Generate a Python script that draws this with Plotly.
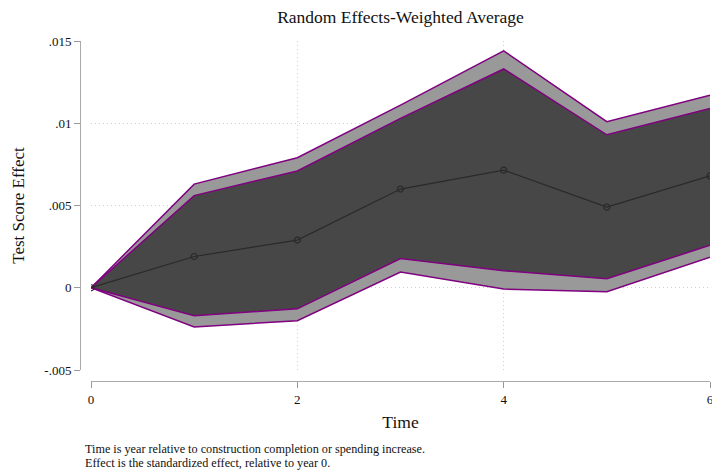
import plotly.graph_objects as go

time = [0, 1, 2, 3, 4, 5, 6]
effect = [0.0, 0.0019, 0.0029, 0.0060, 0.00715, 0.0049, 0.0068]
outer_upper = [0.0, 0.0063, 0.0079, 0.0111, 0.0144, 0.0101, 0.0117]
inner_upper = [0.0, 0.0056, 0.0071, 0.0103, 0.0133, 0.0093, 0.0109]
inner_lower = [0.0, -0.0017, -0.00128, 0.00177, 0.00104, 0.00055, 0.00258]
outer_lower = [0.0, -0.00238, -0.0020, 0.00096, -0.00008, -0.00024, 0.00185]

y_ticks = [-0.005, 0, 0.005, 0.01, 0.015]
y_labels = ["-.005", "0", ".005", ".01", ".015"]
x_ticks = [0, 2, 4, 6]
notes = ["Time is year relative to construction completion or spending increase.",
         "Effect is the standardized effect, relative to year 0."]

PURPLE = "#800080"
FONT = "Liberation Serif"

fig = go.Figure()
fig.add_trace(go.Scatter(x=time, y=outer_lower, mode="lines",
                         line=dict(color=PURPLE, width=1.5)))
fig.add_trace(go.Scatter(x=time, y=outer_upper, mode="lines", fill="tonexty",
                         fillcolor="#999999", line=dict(color=PURPLE, width=1.5)))
fig.add_trace(go.Scatter(x=time, y=inner_lower, mode="lines",
                         line=dict(color=PURPLE, width=1.5)))
fig.add_trace(go.Scatter(x=time, y=inner_upper, mode="lines", fill="tonexty",
                         fillcolor="#474747", line=dict(color=PURPLE, width=1.5)))
fig.add_trace(go.Scatter(x=time, y=effect, mode="lines+markers",
                         line=dict(color="#2a2a2a", width=1.2),
                         marker=dict(symbol="circle-open", size=6,
                                     color="#2a2a2a", line=dict(width=1.2))))

W, H = 712, 476
ml, mr, mt, mb = 80, 2, 41, 95
pw = W - ml - mr
ph = H - mt - mb

GRID = dict(showgrid=True, gridcolor="#cfcfcf", griddash="1px,3px", gridwidth=1)

fig.update_layout(
    width=W, height=H,
    margin=dict(l=ml, r=mr, t=mt, b=mb),
    plot_bgcolor="white", paper_bgcolor="white",
    showlegend=False,
    font=dict(family=FONT, color="#111111", size=13),
    title=dict(text="Random Effects-Weighted Average", x=(91 + 710) / 2 / W,
               xanchor="center", y=1 - 17 / H, yanchor="middle",
               font=dict(family=FONT, size=17.5, color="#111111")),
    xaxis=dict(domain=[11 / pw, 1], range=[0, 6], anchor="free", position=0,
               tickvals=x_ticks, ticks="outside", ticklen=6, tickcolor="#999999",
               ticklabeloverflow="allow", automargin=False,
               showline=True, linecolor="#aaaaaa", linewidth=1,
               zeroline=False, **GRID,
               title=dict(text="Time", font=dict(family=FONT, size=17.5), standoff=10),
               tickfont=dict(family=FONT, size=13)),
    yaxis=dict(domain=[11 / ph, 1], range=[-0.005, 0.015], anchor="free", position=0,
               tickvals=y_ticks, ticktext=y_labels, ticks="outside", ticklen=6,
               tickcolor="#999999", automargin=False,
               showline=True, linecolor="#aaaaaa", linewidth=1,
               zeroline=False, **GRID,
               title=dict(text="Test Score Effect", font=dict(family=FONT, size=17), standoff=14),
               tickfont=dict(family=FONT, size=13)),
)

for line, yc in zip(notes, [449, 463]):
    fig.add_annotation(
        text=line, xref="paper", yref="paper",
        x=(83 - ml) / pw, y=-(yc - (H - mb)) / ph,
        xanchor="left", yanchor="middle", align="left", showarrow=False,
        font=dict(family=FONT, size=12.2, color="#111111"))

fig.write_html("out.html")
